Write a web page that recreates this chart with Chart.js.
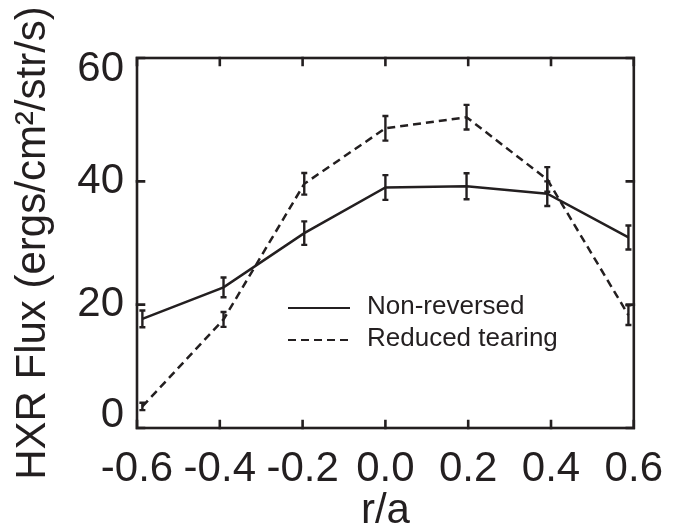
<!DOCTYPE html>
<html>
<head>
<meta charset="utf-8">
<script src="https://cdn.jsdelivr.net/npm/chart.js@4.4.0/dist/chart.umd.min.js"></script>
<style>
  html, body { margin: 0; padding: 0; background: #fff; }
  #wrap { width: 679px; height: 526px; position: relative; }
</style>
</head>
<body>
<div id="wrap"><canvas id="hxrChart"></canvas></div>
<script>
// chord positions (r/a) and HXR flux with error bars
const rOverA = [-0.587, -0.391, -0.196, 0.0, 0.196, 0.391, 0.587];
const nonReversed = [17.7, 22.8, 31.6, 39.0, 39.2, 38.0, 30.9];
const nonReversedErr = [1.35, 1.6, 1.9, 2.0, 2.1, 2.0, 1.95];
const reducedTearing = [3.5, 17.6, 39.6, 48.6, 50.4, 40.3, 18.3];
const reducedTearingErr = [0.6, 1.2, 1.75, 2.0, 2.0, 2.0, 1.6];

const xTicks = [-0.6, -0.4, -0.2, 0.0, 0.2, 0.4, 0.6];
const yTicks = [0, 20, 40, 60];

const ink = '#231f20';
const fontFamily = '"Liberation Sans", Arial, Helvetica, sans-serif';

function points(ys) {
    return rOverA.map((x, i) => ({x: x, y: ys[i]}));
}

// vertical error bars with little caps
const errorBars = {
    id: 'errorBars',
    afterDatasetsDraw(chart) {
        const ctx = chart.ctx;
        const xs = chart.scales.x, ys = chart.scales.y;
        chart.data.datasets.forEach(ds => {
            if (!ds.errors) return;
            ctx.save();
            ctx.strokeStyle = ds.borderColor;
            ctx.lineWidth = 2.4;
            ctx.setLineDash([]);
            ds.data.forEach((p, j) => {
                const px = xs.getPixelForValue(p.x);
                const lo = ys.getPixelForValue(p.y - ds.errors[j]);
                const hi = ys.getPixelForValue(p.y + ds.errors[j]);
                ctx.beginPath();
                ctx.moveTo(px, lo); ctx.lineTo(px, hi);
                ctx.moveTo(px - 3, lo); ctx.lineTo(px + 3, lo);
                ctx.moveTo(px - 3, hi); ctx.lineTo(px + 3, hi);
                ctx.stroke();
            });
            ctx.restore();
        });
    }
};

// closed box round the plot with inward ticks on all four sides
const boxFrame = {
    id: 'boxFrame',
    afterDraw(chart) {
        const ctx = chart.ctx;
        const a = chart.chartArea;
        const xs = chart.scales.x, ys = chart.scales.y;
        const len = 7;
        ctx.save();
        ctx.strokeStyle = ink;
        ctx.lineWidth = 2.6;
        ctx.setLineDash([]);
        ctx.lineCap = 'square';
        ctx.strokeRect(a.left, a.top, a.right - a.left, a.bottom - a.top);
        ctx.beginPath();
        xTicks.forEach(v => {
            const px = xs.getPixelForValue(v);
            ctx.moveTo(px, a.bottom); ctx.lineTo(px, a.bottom - len);
            ctx.moveTo(px, a.top); ctx.lineTo(px, a.top + len);
        });
        yTicks.forEach(v => {
            const py = ys.getPixelForValue(v);
            ctx.moveTo(a.left, py); ctx.lineTo(a.left + len, py);
            ctx.moveTo(a.right, py); ctx.lineTo(a.right - len, py);
        });
        ctx.stroke();
        ctx.restore();
    }
};

// legend sitting inside the axes, MATLAB style
const innerLegend = {
    id: 'innerLegend',
    afterDraw(chart) {
        const ctx = chart.ctx;
        const a = chart.chartArea;
        const x0 = a.left + 151, x1 = a.left + 213, tx = a.left + 230;
        const rows = [a.top + 250, a.top + 282];
        ctx.save();
        ctx.font = '26px ' + fontFamily;
        ctx.fillStyle = ink;
        ctx.textBaseline = 'middle';
        chart.data.datasets.forEach((ds, i) => {
            const y = rows[i];
            ctx.strokeStyle = ds.borderColor;
            ctx.lineWidth = 2;
            ctx.setLineDash(ds.borderDash || []);
            ctx.beginPath();
            ctx.moveTo(x0, y); ctx.lineTo(x1, y);
            ctx.stroke();
            ctx.fillText(ds.label, tx, y - 1);
        });
        ctx.restore();
    }
};

// end labels of the y axis are nudged inside the box: the two-line label
// with a blank line shifts the text by half a line height
const yMin = yTicks[0], yMax = yTicks[yTicks.length - 1];
function yLabel(v) {
    if (v === yMin) return [String(v), ''];
    if (v === yMax) return ['', String(v)];
    return String(v);
}
function yTickFont(c) {
    const v = c.tick ? c.tick.value : null;
    let lh = 1.2;
    if (v === yMin) lh = 26 / 42;
    if (v === yMax) lh = 22 / 42;
    return { family: fontFamily, size: 42, lineHeight: lh };
}

new Chart(document.getElementById('hxrChart'), {
    type: 'line',
    data: {
        datasets: [{
            label: 'Non-reversed',
            data: points(nonReversed),
            errors: nonReversedErr,
            borderColor: ink,
            borderWidth: 2.5,
            pointRadius: 0,
            tension: 0
        }, {
            label: 'Reduced tearing',
            data: points(reducedTearing),
            errors: reducedTearingErr,
            borderColor: ink,
            borderWidth: 2.5,
            borderDash: [8, 5],
            pointRadius: 0,
            tension: 0
        }]
    },
    options: {
        responsive: true,
        maintainAspectRatio: false,
        animation: false,
        layout: { padding: { top: 58, right: 41, left: 0, bottom: 0 } },
        plugins: {
            legend: { display: false },
            tooltip: { enabled: false }
        },
        scales: {
            x: {
                type: 'linear',
                min: -0.6,
                max: 0.6,
                afterBuildTicks: s => { s.ticks = xTicks.map(v => ({value: v})); },
                afterFit: s => { s.height = 98; },
                grid: { display: false, drawTicks: false },
                border: { display: false },
                ticks: {
                    color: ink,
                    font: { family: fontFamily, size: 42 },
                    padding: 16,
                    maxRotation: 0,
                    autoSkip: false,
                    callback: v => v.toFixed(1)
                },
                title: {
                    display: true,
                    text: 'r/a',
                    color: ink,
                    font: { family: fontFamily, size: 42, lineHeight: 1 },
                    padding: { top: 0, bottom: -6 }
                }
            },
            y: {
                min: yMin,
                max: yMax,
                afterBuildTicks: s => { s.ticks = yTicks.map(v => ({value: v})); },
                afterFit: s => { s.width = 137; },
                grid: { display: false, drawTicks: false },
                border: { display: false },
                ticks: {
                    color: ink,
                    font: yTickFont,
                    padding: 13,
                    callback: yLabel
                },
                title: {
                    display: true,
                    text: 'HXR Flux (ergs/cm²/str/s)',
                    color: ink,
                    font: { family: fontFamily, size: 42, lineHeight: 1 },
                    padding: { top: 12, bottom: 0 }
                }
            }
        }
    },
    plugins: [errorBars, boxFrame, innerLegend]
});
</script>
</body>
</html>
